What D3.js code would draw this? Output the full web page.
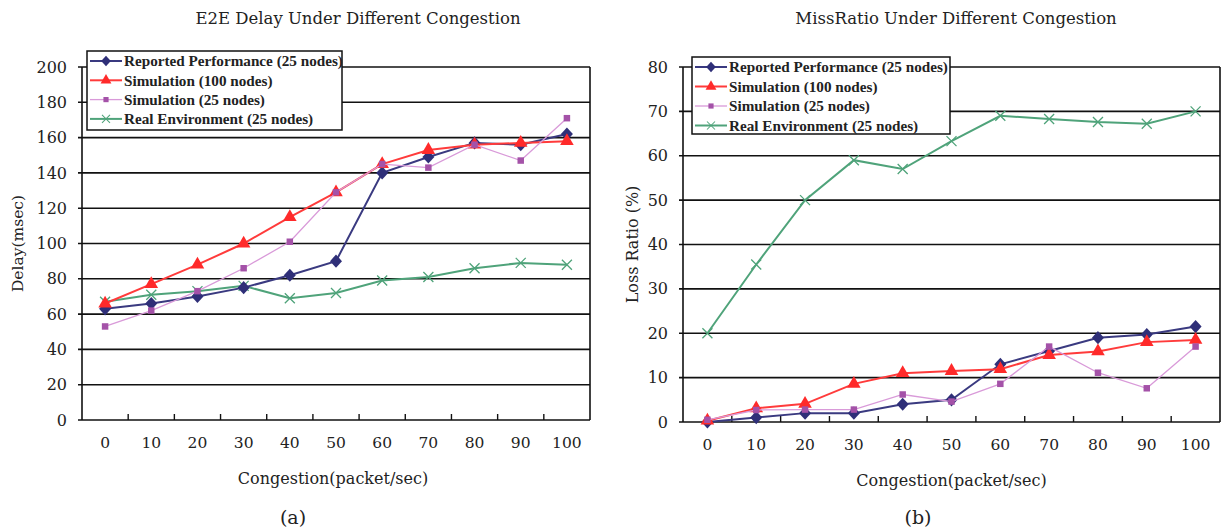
<html>
<head>
  <style>
    body { margin: 0; background: #fff; }
    svg text { font-family: 'DejaVu Serif', 'Liberation Serif', serif; fill: #222; }
    .legend text { font-family: 'Liberation Serif', serif; font-weight: bold; }
  </style>
  <script src="https://d3js.org/d3.v7.min.js"></script>
</head>
<body>
<script>
  // congestion levels (packet/sec)
  const congestion = [0, 10, 20, 30, 40, 50, 60, 70, 80, 90, 100];

  const seriesNames = [
    'Reported Performance (25 nodes)',
    'Simulation (100 nodes)',
    'Simulation (25 nodes)',
    'Real Environment (25 nodes)'
  ];

  // (a) E2E delay, msec
  const delayReported = [63, 66, 70, 75, 82, 90, 140, 149, 157, 156, 162];
  const delaySim100   = [66, 77, 88, 100, 115, 129, 145, 153, 156, 157, 158];
  const delaySim25    = [53, 62, 73, 86, 101, 129, 145, 143, 156, 147, 171];
  const delayReal     = [67, 71, 73, 76, 69, 72, 79, 81, 86, 89, 88];
  const delayTicks    = [0, 20, 40, 60, 80, 100, 120, 140, 160, 180, 200];

  // (b) miss ratio, %
  const missReported = [0, 1, 2, 2, 4, 5, 13, 16, 19, 19.7, 21.5];
  const missSim100   = [0.3, 3.1, 4.1, 8.6, 11, 11.5, 11.9, 15.1, 15.9, 18, 18.5];
  const missSim25    = [0.5, 2.7, 2.8, 2.8, 6.2, 4.6, 8.6, 17, 11.1, 7.6, 17];
  const missReal     = [20, 35.5, 50, 59, 57, 63.3, 69, 68.3, 67.6, 67.2, 70];
  const missTicks    = [0, 10, 20, 30, 40, 50, 60, 70, 80];

  const styles = [
    { color: '#2f2f78', line: '#3a3a80', width: 2, marker: 'diamond', msize: 6 },
    { color: '#ff2a2a', line: '#ff3b3b', width: 2, marker: 'triangle', msize: 80 },
    { color: '#a452a8', line: '#d99ad9', width: 1.3, marker: 'square', msize: 42 },
    { color: '#4fa37a', line: '#4fa37a', width: 2, marker: 'cross', msize: 5 }
  ];
  const drawOrder = [3, 0, 1, 2];

  const svg = d3.select('body').append('svg')
    .attr('width', 1223).attr('height', 531);

  function markerPath(type, size) {
    if (type === 'cross') {
      const r = size;
      return `M${-r},${-r}L${r},${r}M${-r},${r}L${r},${-r}`;
    }
    if (type === 'diamond') {
      const r = size;
      return `M0,${-r * 1.1}L${r},0L0,${r * 1.1}L${-r},0Z`;
    }
    const sym = { triangle: d3.symbolTriangle, square: d3.symbolSquare }[type];
    return d3.symbol(sym, size)();
  }

  function drawMarker(g, st, x, y, scale) {
    const p = g.append('path')
      .attr('d', markerPath(st.marker, st.msize))
      .attr('transform', `translate(${x},${y}) scale(${scale || 1})`);
    if (st.marker === 'cross') p.attr('fill', 'none').attr('stroke', st.color).attr('stroke-width', 1.3);
    else p.attr('fill', st.color);
  }

  function chart(cfg) {
    const g = svg.append('g');
    const x = d3.scaleBand().domain(congestion).range([cfg.left, cfg.right]);
    const y = d3.scaleLinear().domain([0, cfg.ticks[cfg.ticks.length - 1]]).range([cfg.bottom, cfg.top]);
    const cx = d => x(d) + x.bandwidth() / 2;

    // gridlines
    g.append('g').selectAll('line').data(cfg.ticks).join('line')
      .attr('x1', cfg.left - 4).attr('x2', cfg.right)
      .attr('y1', d => y(d)).attr('y2', d => y(d))
      .attr('stroke', '#111').attr('stroke-width', 1.6);
    // frame sides
    g.append('line').attr('x1', cfg.left).attr('x2', cfg.left)
      .attr('y1', cfg.top).attr('y2', cfg.bottom).attr('stroke', '#111').attr('stroke-width', 1.6);
    g.append('line').attr('x1', cfg.right).attr('x2', cfg.right)
      .attr('y1', cfg.top).attr('y2', cfg.bottom).attr('stroke', '#111').attr('stroke-width', 1.6);

    // y tick labels
    g.append('g').selectAll('text').data(cfg.ticks).join('text')
      .attr('x', cfg.left - 15).attr('y', d => y(d))
      .attr('dy', '0.35em').attr('text-anchor', 'end')
      .style('font-size', '16px').text(d => d);

    // x ticks between categories (pointing up)
    g.append('g').selectAll('line').data(congestion.slice(1)).join('line')
      .attr('x1', d => x(d)).attr('x2', d => x(d))
      .attr('y1', cfg.bottom).attr('y2', cfg.bottom - 6)
      .attr('stroke', '#111').attr('stroke-width', 1.4);
    g.append('g').selectAll('text').data(congestion).join('text')
      .attr('x', d => cx(d)).attr('y', cfg.bottom + 23)
      .attr('dy', '0.35em').attr('text-anchor', 'middle')
      .style('font-size', '15.5px').text(d => d);

    // titles and labels
    g.append('text').attr('x', cfg.titleX).attr('y', 18).attr('dy', '0.35em')
      .attr('text-anchor', 'middle').style('font-size', '16.5px').text(cfg.title);
    g.append('text').attr('x', (cfg.left + cfg.right) / 2 - cfg.xLabelShift).attr('y', cfg.bottom + 58)
      .attr('dy', '0.35em').attr('text-anchor', 'middle').style('font-size', '16px')
      .text('Congestion(packet/sec)');
    g.append('text').attr('transform', `translate(${cfg.yLabelX},${(cfg.top + cfg.bottom) / 2}) rotate(-90)`)
      .attr('dy', '0.35em').attr('text-anchor', 'middle').style('font-size', cfg.yLabelSize)
      .text(cfg.yLabel);
    g.append('text').attr('x', cfg.capX).attr('y', 517).attr('dy', '0.35em')
      .attr('text-anchor', 'middle').style('font-size', '19px').text(cfg.caption);

    // series
    const line = d3.line().x((d, i) => cx(congestion[i])).y(d => y(d));
    drawOrder.forEach(k => {
      const st = styles[k];
      const vals = cfg.series[k];
      g.append('path').datum(vals).attr('d', line)
        .attr('fill', 'none').attr('stroke', st.line).attr('stroke-width', st.width);
      vals.forEach((v, i) => drawMarker(g, st, cx(congestion[i]), y(v)));
    });

    // legend
    const lg = g.append('g').attr('class', 'legend');
    const L = cfg.legend;
    lg.append('rect').attr('x', L.x).attr('y', L.y).attr('width', L.w).attr('height', L.h)
      .attr('fill', '#fff').attr('stroke', '#111').attr('stroke-width', 1.5);
    seriesNames.forEach((name, k) => {
      const st = styles[k];
      const yy = L.y + 10 + k * L.step;
      lg.append('line').attr('x1', L.x + 3).attr('x2', L.x + 35)
        .attr('y1', yy).attr('y2', yy).attr('stroke', st.line).attr('stroke-width', st.width);
      drawMarker(lg, st, L.x + 19, yy, 0.8);
      lg.append('text').attr('x', L.x + 37).attr('y', yy).attr('dy', '0.35em')
        .style('font-size', '15.2px').text(name);
    });
  }

  chart({
    left: 82, right: 590, top: 67, bottom: 420,
    ticks: delayTicks,
    series: [delayReported, delaySim100, delaySim25, delayReal],
    title: 'E2E Delay Under Different Congestion', titleX: 358,
    yLabel: 'Delay(msec)', yLabelX: 18, yLabelSize: '15.5px', xLabelShift: 3,
    caption: '(a)', capX: 293,
    legend: { x: 87, y: 51, w: 255, h: 79, step: 19.3 }
  });

  chart({
    left: 683, right: 1220, top: 67, bottom: 422,
    ticks: missTicks,
    series: [missReported, missSim100, missSim25, missReal],
    title: 'MissRatio Under Different Congestion', titleX: 956,
    yLabel: 'Loss Ratio (%)', yLabelX: 632, yLabelSize: '16px', xLabelShift: 0,
    caption: '(b)', capX: 918,
    legend: { x: 692, y: 57, w: 258, h: 77, step: 19.5 }
  });
</script>
</body>
</html>
